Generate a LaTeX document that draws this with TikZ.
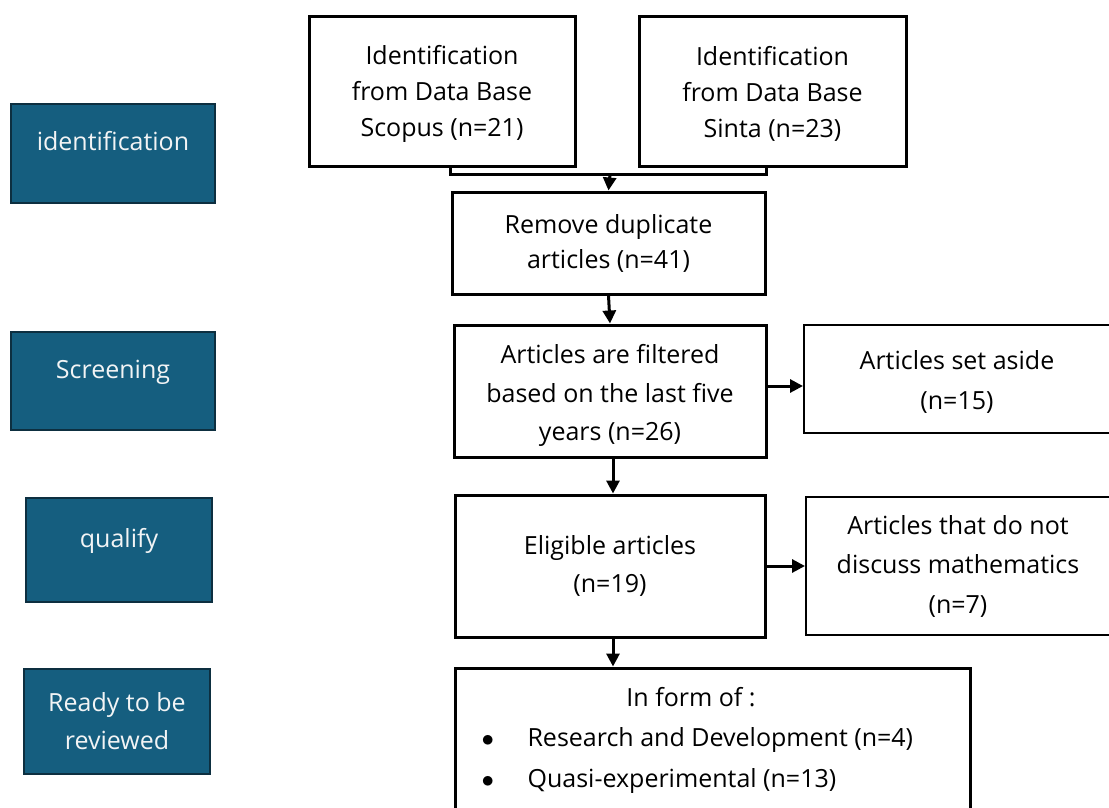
\documentclass[tikz,border=0pt]{standalone}
\usepackage{fontspec}
\setmainfont{Open Sans}
\usetikzlibrary{arrows.meta}
\definecolor{stageblue}{HTML}{155E7F}
\definecolor{stageedge}{HTML}{0D2F40}
\definecolor{stagetext}{HTML}{F2F4F5}
\tikzset{
  bluebox/.style={draw=stageedge,fill=stageblue,text=stagetext,line width=1.5pt,inner sep=0pt,align=center},
  onerow/.style={text height=18pt,text depth=24pt},
  mainbox/.style={draw,line width=3pt,inner sep=0pt,align=center},
  sidebox/.style={draw,line width=2pt,inner sep=0pt,align=center},
  flow/.style={line width=3pt,-{Triangle[length=13pt,width=13pt]}},
}
\begin{document}
\begin{tikzpicture}[x=1pt,y=-1pt,font=\fontsize{25}{38}\selectfont]
  \useasboundingbox (0,0) rectangle (1109,807);
  \clip (0,0) rectangle (1109,807);
  % stages on the left
  \node[bluebox,onerow,minimum width=204pt,minimum height=99pt] (ident) at (113,153.5) {identification};
  \node[bluebox,onerow,minimum width=204pt,minimum height=98pt] (screen) at (113,381) {Screening};
  \node[bluebox,onerow,minimum width=186pt,minimum height=104pt] (qualify) at (119,550) {qualify};
  \node[bluebox,minimum width=186pt,minimum height=105pt] (ready) at (117,721.5) {Ready to be\\reviewed};
  % sources
  \node[mainbox,minimum width=266pt,minimum height=150pt,text height=97pt,font=\fontsize{25}{36}\selectfont] (scopus) at (442,91) {Identification\\from Data Base\\Scopus (n=21)};
  \node[mainbox,minimum width=267pt,minimum height=150pt,text height=97pt,font=\fontsize{25}{36}\selectfont] (sinta) at (772.5,91) {Identification\\from Data Base\\Sinta (n=23)};
  % main column
  \node[mainbox,minimum width=313pt,minimum height=102pt,font=\fontsize{25}{35}\selectfont] (remove) at (608.5,243) {Remove duplicate\\articles (n=41)};
  \node[mainbox,minimum width=312pt,minimum height=132pt,text height=105pt,font=\fontsize{25}{38.5}\selectfont] (filter) at (610,391) {Articles are filtered\\based on the last five\\years (n=26)};
  \node[mainbox,minimum width=310pt,minimum height=142pt] (eligible) at (610,566) {Eligible articles\\(n=19)};
  \node[mainbox,minimum width=515pt,minimum height=160pt] (form) at (712.5,748) {};
  \node (formhead) at (691,697) {In form of :};
  \node[anchor=west] (formrd) at (478,740) {\makebox[46pt][l]{$\bullet$}Research and Development (n=4)};
  \node[anchor=west] (formqe) at (478,781) {\makebox[46pt][l]{$\bullet$}Quasi-experimental (n=13)};
  % excluded
  \node[sidebox,minimum width=306pt,minimum height=108pt,text height=65pt,font=\fontsize{25}{40}\selectfont] (aside) at (957,379) {Articles set aside\\(n=15)};
  \node[sidebox,minimum width=304pt,minimum height=138pt,font=\fontsize{25}{39.5}\selectfont] (nomath) at (958,566) {Articles that do not\\discuss mathematics\\(n=7)};
  % connectors
  \coordinate (join) at (610,174);
  \draw[line width=3pt] (scopus.south -| remove.north west) |- (join) -| (sinta.south -| remove.north east);
  \draw[flow] (join) -- (remove.north);
  \draw[flow] (remove.south) -- (filter.north);
  \draw[flow] ([xshift=3pt]filter.south) -- ([xshift=3pt]eligible.north);
  \draw[flow] ([xshift=3pt]eligible.south) -- ([xshift=3pt]eligible.south |- form.north);
  \draw[flow] ([yshift=5pt]filter.east) -- ([yshift=-7pt]aside.west);
  \draw[flow] (eligible.east) -- (nomath.west);
\end{tikzpicture}
\end{document}
